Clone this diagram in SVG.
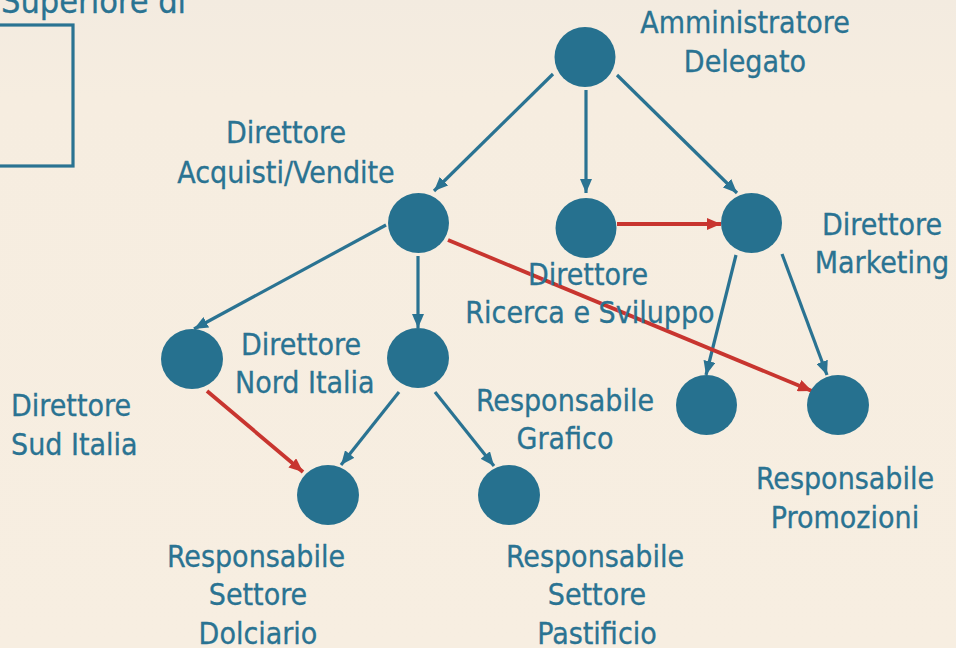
<svg xmlns="http://www.w3.org/2000/svg" width="956" height="648" viewBox="0 0 956 648">
  <defs>
    <style>
      .lbl { font-family: "DejaVu Sans Condensed", "DejaVu Sans", sans-serif; font-stretch: condensed; font-size: 30px; fill: #2a7392; stroke: #2a7392; stroke-width: 0.3; }
      .mid { text-anchor: middle; }
      .node { fill: #26718f; }
      .edge { stroke: #2a7392; stroke-width: 3.2; fill: none; }
      .red { stroke: #c8352f; stroke-width: 3.8; fill: none; }
    </style>
    <marker id="ab" markerUnits="userSpaceOnUse" markerWidth="15" markerHeight="12" refX="14" refY="6" orient="auto">
      <path d="M0,0 L14,6 L0,12 Z" fill="#2a7392"/>
    </marker>
    <marker id="ar" markerUnits="userSpaceOnUse" markerWidth="15" markerHeight="12" refX="14" refY="6" orient="auto">
      <path d="M0,0 L14,6 L0,12 Z" fill="#c8352f"/>
    </marker>
    <linearGradient id="bg" x1="0" y1="0" x2="0" y2="1">
      <stop offset="0" stop-color="#f3ebe0"/>
      <stop offset="0.15" stop-color="#f6ede0"/>
      <stop offset="1" stop-color="#f7eee1"/>
    </linearGradient>
  </defs>
  <rect x="0" y="0" width="956" height="648" fill="url(#bg)"/>

  <g id="legend">
    <text class="lbl" x="1" y="13" style="font-size: 34px;">Superiore di</text>
    <rect x="-5" y="25" width="78" height="141" fill="none" stroke="#2a7392" stroke-width="3.2"/>
  </g>

  <g id="connectors">
    <line class="edge" x1="553" y1="74" x2="434" y2="191" marker-end="url(#ab)"/>
    <line class="edge" x1="586" y1="90" x2="586" y2="193" marker-end="url(#ab)"/>
    <line class="edge" x1="617" y1="75" x2="737" y2="193" marker-end="url(#ab)"/>
    <line class="edge" x1="386" y1="225" x2="194" y2="329" marker-end="url(#ab)"/>
    <line class="edge" x1="418" y1="256" x2="418" y2="328" marker-end="url(#ab)"/>
    <line class="edge" x1="736" y1="255" x2="706" y2="375" marker-end="url(#ab)"/>
    <line class="edge" x1="782" y1="254" x2="827" y2="375" marker-end="url(#ab)"/>
    <line class="edge" x1="399" y1="392" x2="341" y2="465" marker-end="url(#ab)"/>
    <line class="edge" x1="435" y1="392" x2="494" y2="466" marker-end="url(#ab)"/>
    <line class="red" x1="617" y1="224" x2="721" y2="224" marker-end="url(#ar)"/>
    <line class="red" x1="448" y1="240" x2="812" y2="391" marker-end="url(#ar)"/>
    <line class="red" x1="207" y1="391" x2="303" y2="472" marker-end="url(#ar)"/>
  </g>

  <g id="n-amministratore">
    <ellipse class="node" cx="585" cy="57" rx="30.5" ry="30"/>
    <text class="lbl mid" x="745" y="33">Amministratore</text>
    <text class="lbl mid" x="745" y="72">Delegato</text>
  </g>
  <g id="n-acquisti">
    <ellipse class="node" cx="418.5" cy="223" rx="30.5" ry="30"/>
    <text class="lbl mid" x="286" y="143">Direttore</text>
    <text class="lbl mid" x="286" y="183">Acquisti/Vendite</text>
  </g>
  <g id="n-ricerca">
    <ellipse class="node" cx="586" cy="228" rx="30.5" ry="30"/>
    <text class="lbl mid" x="588" y="285">Direttore</text>
    <text class="lbl mid" x="590" y="323">Ricerca e Sviluppo</text>
  </g>
  <g id="n-marketing">
    <ellipse class="node" cx="751.5" cy="223" rx="30.5" ry="30"/>
    <text class="lbl mid" x="882" y="235">Direttore</text>
    <text class="lbl mid" x="882" y="273">Marketing</text>
  </g>
  <g id="n-sud">
    <ellipse class="node" cx="192" cy="359" rx="31" ry="30"/>
    <text class="lbl" x="11" y="416">Direttore</text>
    <text class="lbl" x="11" y="455">Sud Italia</text>
  </g>
  <g id="n-nord">
    <ellipse class="node" cx="418" cy="358" rx="31" ry="30"/>
    <text class="lbl" x="241" y="355">Direttore</text>
    <text class="lbl" x="235" y="393">Nord Italia</text>
  </g>
  <g id="n-grafico">
    <ellipse class="node" cx="706.5" cy="405" rx="30.5" ry="30"/>
    <text class="lbl mid" x="565" y="411">Responsabile</text>
    <text class="lbl mid" x="565" y="449">Grafico</text>
  </g>
  <g id="n-promozioni">
    <ellipse class="node" cx="838" cy="405" rx="31" ry="30"/>
    <text class="lbl mid" x="845" y="489">Responsabile</text>
    <text class="lbl mid" x="845" y="528">Promozioni</text>
  </g>
  <g id="n-dolciario">
    <ellipse class="node" cx="328" cy="495" rx="31" ry="30"/>
    <text class="lbl mid" x="256" y="567">Responsabile</text>
    <text class="lbl mid" x="258" y="605">Settore</text>
    <text class="lbl mid" x="258" y="644">Dolciario</text>
  </g>
  <g id="n-pastificio">
    <ellipse class="node" cx="509" cy="495" rx="31" ry="30"/>
    <text class="lbl mid" x="595" y="567">Responsabile</text>
    <text class="lbl mid" x="597" y="605">Settore</text>
    <text class="lbl mid" x="597" y="644">Pastificio</text>
  </g>
</svg>
